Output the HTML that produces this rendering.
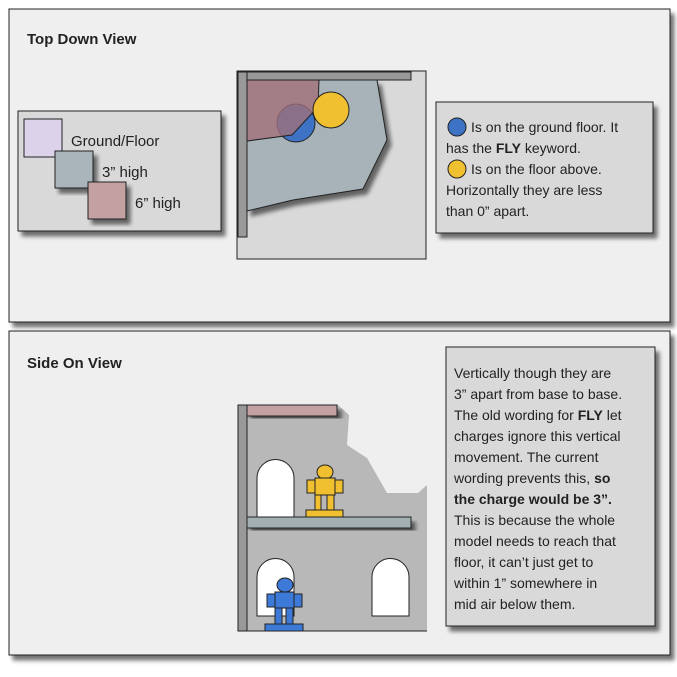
<!DOCTYPE html>
<html><head><style>
html,body{margin:0;padding:0;background:#fff;}
svg text{font-family:"Liberation Sans",sans-serif;fill:#222;}
</style></head><body>
<svg width="677" height="672" viewBox="0 0 677 672" xmlns="http://www.w3.org/2000/svg">
<defs>
<filter id="sh" x="-10%" y="-10%" width="130%" height="130%"><feGaussianBlur in="SourceAlpha" stdDeviation="2"/><feOffset dx="4" dy="5"/><feComponentTransfer><feFuncA type="linear" slope="0.55"/></feComponentTransfer><feMerge><feMergeNode/><feMergeNode in="SourceGraphic"/></feMerge></filter>
</defs>
<rect x="9" y="9" width="661" height="313" fill="#efefef" stroke="#222" filter="url(#sh)"/>
<rect x="9" y="331" width="661" height="324" fill="#efefef" stroke="#222" filter="url(#sh)"/>
<text x="27" y="44" font-size="15" font-weight="bold">Top Down View</text>
<text x="27" y="368" font-size="15" font-weight="bold">Side On View</text>

<rect x="18" y="111" width="203" height="120" fill="#d9d9d9" stroke="#222" filter="url(#sh)"/>
<rect x="24" y="119" width="38" height="38" fill="#dcd3ea" stroke="#222"/>
<rect x="55" y="151" width="38" height="37" fill="#a9b5ba" stroke="#222" filter="url(#sh)"/>
<rect x="88" y="182" width="38" height="37" fill="#c3a0a2" stroke="#222" filter="url(#sh)"/>
<text x="71" y="146" font-size="15">Ground/Floor</text>
<text x="102" y="177" font-size="15">3” high</text>
<text x="135" y="208" font-size="15">6” high</text>

<rect x="237" y="71" width="189" height="188" fill="#d9d9d9" stroke="#222"/>
<polygon points="247,80 377,80 387,140 363,189 293,200 247,211" fill="#a7b3b8" stroke="#222" filter="url(#sh)"/>
<circle cx="296" cy="123" r="19" fill="#3d72c4" stroke="#222"/>
<polygon points="247,80 319,80 318,107 292,135 247,141" fill="#a2707a" fill-opacity="0.78" stroke="#222"/>
<circle cx="331" cy="110" r="18" fill="#f0c030" stroke="#222"/>
<rect x="238" y="72" width="9" height="165" fill="#999" stroke="#222"/>
<rect x="247" y="72" width="164" height="8" fill="#999" stroke="#222"/>

<rect x="436" y="102" width="217" height="131" fill="#d9d9d9" stroke="#222" filter="url(#sh)"/>
<circle cx="457" cy="127" r="9" fill="#3d72c4" stroke="#222"/>
<circle cx="457" cy="169" r="9" fill="#f0c030" stroke="#222"/>
<text font-size="14"><tspan x="471" y="132">Is on the ground floor. It</tspan><tspan x="446" y="153">has the <tspan font-weight="bold">FLY</tspan> keyword.</tspan><tspan x="471" y="174">Is on the floor above.</tspan><tspan x="446" y="195">Horizontally they are less</tspan><tspan x="446" y="216">than 0” apart.</tspan></text>

<polygon points="238,405 338,405 349,415 347,445 367,458 387,493 418,493 427,485 427,631 238,631" fill="#b8b8b8"/>
<rect x="247" y="405" width="90" height="11" fill="#c3a0a2" stroke="#222" filter="url(#sh)"/>
<path d="M257,517 V478 A18.5,18.5 0 0 1 294,478 V517 Z" fill="#fff" stroke="#222"/>
<path d="M257,616 V577 A18.5,18.5 0 0 1 294,577 V616 Z" fill="#fff" stroke="#222"/>
<path d="M372,616 V577 A18.5,18.5 0 0 1 409,577 V616 Z" fill="#fff" stroke="#222"/>
<rect x="247" y="517" width="164" height="11" fill="#a3b0b3" stroke="#222" filter="url(#sh)"/>
<rect x="238" y="405" width="9" height="226" fill="#999" stroke="#222"/>
<line x1="238" y1="631" x2="427" y2="631" stroke="#222"/>
<g fill="#f0c030" stroke="#222">
<ellipse cx="325" cy="472" rx="8" ry="7"/>
<rect x="307" y="480" width="8" height="13"/><rect x="335" y="480" width="8" height="13"/>
<rect x="315" y="495" width="6" height="16"/><rect x="327" y="495" width="7" height="16"/>
<rect x="315" y="478" width="20" height="17"/>
<rect x="306" y="510" width="37" height="7"/>
</g>
<g fill="#3d7ad8" stroke="#222">
<ellipse cx="285" cy="585" rx="8" ry="7"/>
<rect x="267" y="594" width="8" height="13"/><rect x="294" y="594" width="8" height="13"/>
<rect x="275" y="608" width="7" height="17"/><rect x="286" y="608" width="7" height="17"/>
<rect x="275" y="592" width="19" height="16"/>
<rect x="265" y="624" width="38" height="7"/>
</g>

<rect x="446" y="347" width="209" height="279" fill="#d9d9d9" stroke="#222" filter="url(#sh)"/>
<text font-size="14"><tspan x="454" y="378">Vertically though they are</tspan><tspan x="454" y="399">3” apart from base to base.</tspan><tspan x="454" y="420">The old wording for <tspan font-weight="bold">FLY</tspan> let</tspan><tspan x="454" y="441">charges ignore this vertical</tspan><tspan x="454" y="462">movement. The current</tspan><tspan x="454" y="483">wording prevents this, <tspan font-weight="bold">so</tspan></tspan><tspan x="454" y="504" font-weight="bold">the charge would be 3”.</tspan><tspan x="454" y="525">This is because the whole</tspan><tspan x="454" y="546">model needs to reach that</tspan><tspan x="454" y="567">floor, it can’t just get to</tspan><tspan x="454" y="588">within 1” somewhere in</tspan><tspan x="454" y="609">mid air below them.</tspan></text>
</svg>
</body></html>
